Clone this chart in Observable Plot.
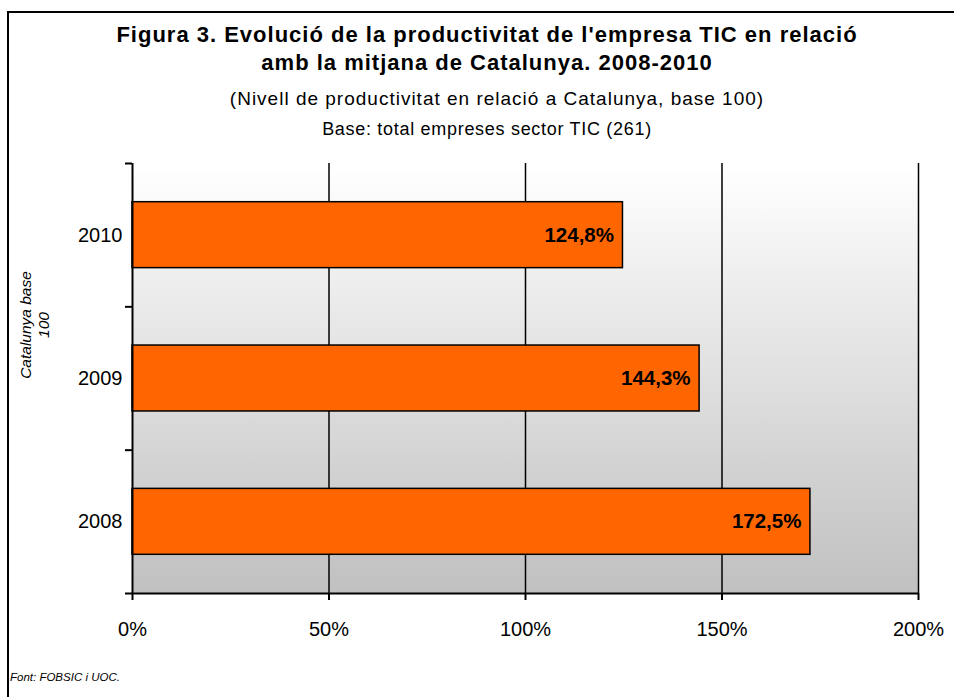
<!DOCTYPE html>
<html>
<head>
<meta charset="utf-8">
<script src="https://cdn.jsdelivr.net/npm/d3@7"></script>
<script src="https://cdn.jsdelivr.net/npm/@observablehq/plot@0.6"></script>
<style>
  html, body { margin: 0; padding: 0; background: #fff; }
  body { width: 954px; height: 697px; position: relative; overflow: hidden; font-family: "Liberation Sans", Arial, sans-serif; color: #000; }
  #frame { position: absolute; left: 7px; top: 11px; width: 1000px; height: 1000px; border-left: 2px solid #000; border-top: 2px solid #000; box-sizing: border-box; }
  #titles { position: absolute; left: 8px; width: 958px; top: 21px; text-align: center; }
  #title { font-weight: bold; font-size: 22px; line-height: 28px; letter-spacing: 1px; }
  #subtitle { font-size: 19px; line-height: 22px; margin-top: 11px; letter-spacing: 1px; padding-left: 20px; }
  #base { font-size: 18px; line-height: 20px; margin-top: 9px; letter-spacing: 0.7px; }
  #ytitle { position: absolute; left: 35px; top: 325px; transform: translate(-50%, -50%) rotate(-90deg); font-style: italic; font-size: 15.5px; line-height: 18px; text-align: center; white-space: nowrap; }
  #caption { position: absolute; left: 10px; top: 669px; font-style: italic; font-size: 11.5px; line-height: 16px; }
  #chart { position: absolute; left: 0; top: 150px; }
</style>
</head>
<body>
<div id="frame"></div>
<div id="titles">
  <div id="title">Figura 3. Evolució de la productivitat de l'empresa TIC en relació<br>amb la mitjana de Catalunya. 2008-2010</div>
  <div id="subtitle">(Nivell de productivitat en relació a Catalunya, base 100)</div>
  <div id="base">Base: total empreses sector TIC (261)</div>
</div>
<div id="ytitle">Catalunya base<br>100</div>
<div id="chart"></div>
<div id="caption">Font: FOBSIC i UOC.</div>
<script>
const years = [2010, 2009, 2008];
const values = [124.8, 144.3, 172.5];
const xTicks = [0, 50, 100, 150, 200];
const yBoundaries = [2007.5, 2008.5, 2009.5, 2010.5];

const data = years.map((year, i) => ({year, value: values[i]}));
const yDomain = [d3.min(yBoundaries), d3.max(yBoundaries)];
const BAR_HALF = 0.23;
const fmt = v => v.toFixed(1).replace(".", ",") + "%";

const chart = Plot.plot({
  width: 954,
  height: 500,
  marginLeft: 132,
  marginRight: 36,
  marginTop: 13,
  marginBottom: 57,
  style: {fontFamily: "'Liberation Sans', Arial, sans-serif", fontSize: "20px", color: "#000", background: "transparent", overflow: "visible"},
  x: {domain: [d3.min(xTicks), d3.max(xTicks)]},
  y: {domain: yDomain},
  marks: [
    Plot.frame({fill: "url(#bgGrad)", stroke: "none"}),
    Plot.ruleX(xTicks.slice(1), {stroke: "#000", strokeWidth: 1.5}),
    Plot.rectX(data, {x1: 0, x2: "value", y1: d => d.year - BAR_HALF, y2: d => d.year + BAR_HALF, fill: "#ff6600", stroke: "#000", strokeWidth: 1.5}),
    Plot.text(data, {x: "value", y: "year", text: d => fmt(d.value), textAnchor: "end", dx: -9, fontWeight: "bold", fontSize: 20.5, fill: "#000"}),
    Plot.ruleX([0], {stroke: "#000", strokeWidth: 2}),
    Plot.ruleY([yDomain[0]], {stroke: "#000", strokeWidth: 2}),
    Plot.axisX({ticks: xTicks, tickFormat: d => d + "%", tickSize: 7, tickPadding: 21, fontSize: 20, strokeWidth: 2, label: null}),
    Plot.axisY({ticks: years, tickFormat: d => String(d), tickSize: 0, tickPadding: 10, fontSize: 20, label: null}),
    Plot.axisY({ticks: yBoundaries, tickFormat: () => "", tickSize: 7, strokeWidth: 2, label: null})
  ]
});

const ns = "http://www.w3.org/2000/svg";
const defs = document.createElementNS(ns, "defs");
const grad = document.createElementNS(ns, "linearGradient");
grad.setAttribute("id", "bgGrad");
grad.setAttribute("x1", "0"); grad.setAttribute("y1", "0");
grad.setAttribute("x2", "0"); grad.setAttribute("y2", "1");
[["0%", "#ffffff"], ["100%", "#c0c0c0"]].forEach(([o, c]) => {
  const s = document.createElementNS(ns, "stop");
  s.setAttribute("offset", o); s.setAttribute("stop-color", c);
  grad.appendChild(s);
});
defs.appendChild(grad);
chart.insertBefore(defs, chart.firstChild);
document.getElementById("chart").appendChild(chart);
</script>
</body>
</html>
